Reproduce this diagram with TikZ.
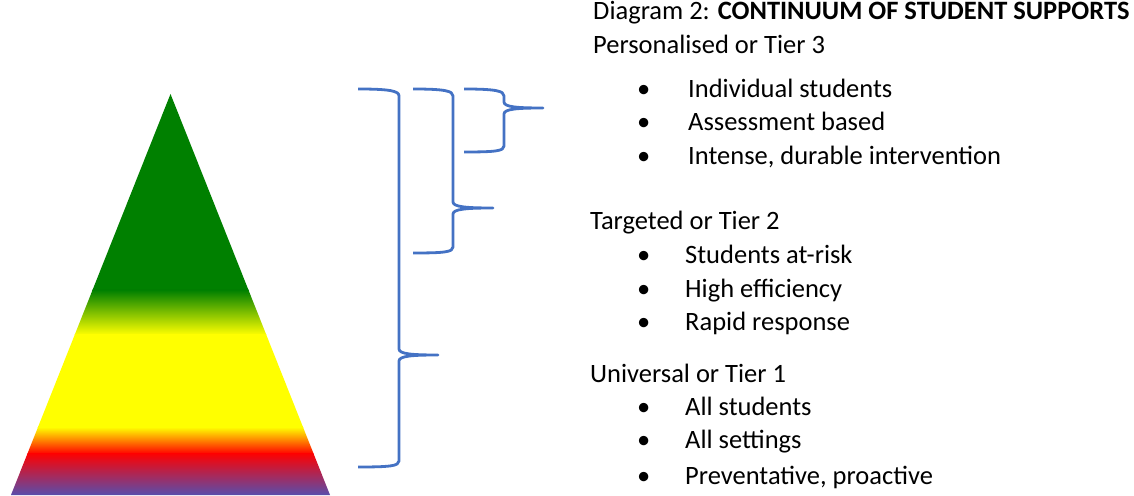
\documentclass[tikz,border=0pt]{standalone}
\usepackage{fontspec}
\setmainfont{Carlito}
\usepackage{xcolor}
\usepackage{tikz}

\definecolor{TierGreen}{RGB}{0,128,0}
\definecolor{TierYellow}{RGB}{255,255,0}
\definecolor{TierOrange}{RGB}{255,140,0}
\definecolor{TierRed}{RGB}{255,0,0}
\definecolor{TierCrimson}{RGB}{195,30,70}
\definecolor{TierPurple}{RGB}{88,78,172}
\definecolor{BraceBlue}{RGB}{68,114,196}

\tikzset{
    heading/.style = {anchor = base west, inner sep = 0, font = \fontsize{26.5}{30}\selectfont},
    item/.style = {heading},
    brace line/.style = {draw = BraceBlue, line width = 2.8pt, line join = round}
}

\begin{document}
\begin{tikzpicture}[x = 1pt, y = 1pt]
    \fill [white] (0, 0) rectangle (1134, 495);
    % pyramid, coloured in horizontal bands
    \begin{scope}
        \clip (11, 0) -- (170.5, 401) -- (330, 0) -- cycle;
        \fill [TierGreen] (0, 204) rectangle (340, 402);
        \shade [top color = TierGreen, bottom color = TierYellow] (0, 160) rectangle (340, 205);
        \fill [TierYellow] (0, 67) rectangle (340, 161);
        \shade [top color = TierYellow, middle color = TierOrange, bottom color = TierRed] (0, 41) rectangle (340, 68);
        \shade [top color = TierRed, middle color = TierCrimson, bottom color = TierPurple] (0, 0) rectangle (340, 42);
    \end{scope}
    % braces
    \draw [brace line] (358, 406) .. controls (390, 406) and (399, 404) .. (399, 399) -- (399, 146)
        .. controls (399, 141) and (412, 140) .. (438, 140)
        .. controls (412, 140) and (399, 139) .. (399, 134) -- (399, 34)
        .. controls (399, 29) and (390, 28) .. (358, 28);
    \draw [brace line] (413, 406) .. controls (445, 406) and (453, 404) .. (453, 399) -- (453, 293)
        .. controls (453, 288) and (467, 287) .. (493, 287)
        .. controls (467, 287) and (453, 286) .. (453, 281) -- (453, 248)
        .. controls (453, 243) and (445, 242) .. (413, 242);
    \draw [brace line] (464, 406) .. controls (496, 406) and (504, 404) .. (504, 399) -- (504, 393)
        .. controls (504, 388) and (517, 387) .. (543, 387)
        .. controls (517, 387) and (504, 386) .. (504, 381) -- (504, 349)
        .. controls (504, 344) and (496, 343) .. (464, 343);
    % text
    \node [heading] (title) at (593, 475) {Diagram 2: \textbf{CONTINUUM OF STUDENT SUPPORTS}};
    \node [heading] (tier3) at (593, 441) {Personalised or Tier 3};
    \node [item] (tier3a) at (637, 397) {\makebox[51pt][l]{•}Individual students};
    \node [item] (tier3b) at (637, 364) {\makebox[51pt][l]{•}Assessment based};
    \node [item] (tier3c) at (637, 330) {\makebox[51pt][l]{•}Intense, durable intervention};
    \node [heading] (tier2) at (590, 265) {Targeted or Tier 2};
    \node [item] (tier2a) at (637, 231) {\makebox[48pt][l]{•}Students at-risk};
    \node [item] (tier2b) at (637, 197) {\makebox[48pt][l]{•}High efficiency};
    \node [item] (tier2c) at (637, 164) {\makebox[48pt][l]{•}Rapid response};
    \node [heading] (tier1) at (590, 112) {Universal or Tier 1};
    \node [item] (tier1a) at (637, 79) {\makebox[48pt][l]{•}All students};
    \node [item] (tier1b) at (637, 46) {\makebox[48pt][l]{•}All settings};
    \node [item] (tier1c) at (637, 11) {\makebox[48pt][l]{•}Preventative, proactive};
\end{tikzpicture}
\end{document}
